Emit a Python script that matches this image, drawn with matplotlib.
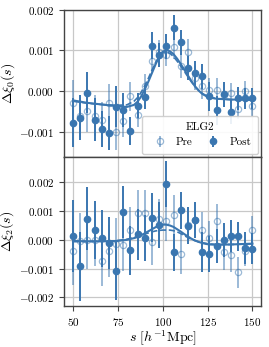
import numpy as np
import matplotlib
matplotlib.use('Agg')
import matplotlib.pyplot as plt
from matplotlib.ticker import FuncFormatter

plt.rcParams['font.family'] = 'serif'
plt.rcParams['font.serif'] = ['cmr10', 'DejaVu Serif']
plt.rcParams['mathtext.fontset'] = 'cm'
plt.rcParams['axes.unicode_minus'] = False

# separation bins
s = np.arange(50, 151, 4)

# monopole difference
xi0_pre = [-0.00028, -0.0006, -0.00049, -0.0006, -0.0007, -0.00028, -0.00099, -0.00072,
           -0.00012, -0.00057, 0.00013, 0.00074, 0.00095, 0.00089, 0.00108, 0.00063,
           0.00097, 0.00033, 0.00012, 0.00003, 0.00003, -0.0001, -0.00004, -0.00042,
           0.00001, -0.00035]
xi0_pre_err = [0.00055, 0.00052, 0.0005, 0.0005, 0.00045, 0.00045, 0.00045, 0.0004,
               0.00035, 0.0003, 0.0003, 0.0003, 0.0003, 0.00028, 0.00028, 0.0003,
               0.0003, 0.0003, 0.0003, 0.0003, 0.0003, 0.00028, 0.00025, 0.00025,
               0.00025, 0.00025]
xi0_post = [-0.00077, -0.00064, -0.00003, -0.00069, -0.00092, -0.00102, -0.00037, -0.00045,
            -0.00097, -0.00035, -0.00014, 0.00111, 0.00089, 0.0011, 0.00156, 0.0012,
            0.00057, 0.00044, 0.00037, -0.00012, -0.00046, -0.00007, -0.0005, -0.00017,
            -0.00017, -0.00017]
xi0_post_err = [0.0006, 0.00055, 0.0005, 0.00053, 0.00045, 0.00042, 0.0005, 0.00042,
                0.00035, 0.0003, 0.0003, 0.00033, 0.0003, 0.0003, 0.0003, 0.0003,
                0.0003, 0.0003, 0.0003, 0.00035, 0.00035, 0.0003, 0.0003, 0.00028,
                0.00025, 0.00025]

# quadrupole difference
xi2_pre = [-0.00038, -0.00005, -0.00002, -0.00001, -0.00072, -0.0004, -0.00015, -0.00017,
           0.00034, 0.00092, 0.00094, -0.00007, 0.00073, 0.00066, 0.00087, -0.00049,
           0.00052, 0.00068, 0.00036, 0.00007, 0.00066, -0.00043, -0.00052, -0.00113,
           -0.0004, 0.00033]
xi2_pre_err = [0.0012, 0.001, 0.001, 0.0009, 0.0009, 0.0009, 0.0009, 0.0009,
               0.0008, 0.0008, 0.0008, 0.0008, 0.0007, 0.0007, 0.0007, 0.0007,
               0.0006, 0.0006, 0.0006, 0.0006, 0.0006, 0.0006, 0.0006, 0.00055,
               0.0005, 0.0005]
xi2_post = [0.00014, -0.00092, 0.00074, 0.00034, 0.00005, -0.0001, -0.00108, 0.00097,
            -0.00036, 0.00019, 0.00005, 0.00077, 0.00053, 0.00193, -0.00043, 0.00103,
            0.00049, 0.0007, -0.00041, -0.00049, -0.00022, -0.00001, 0.00014, 0.00012,
            -0.00029, -0.0003]
xi2_post_err = [0.00124, 0.0012, 0.0011, 0.001, 0.001, 0.0009, 0.001, 0.0009,
                0.00085, 0.0009, 0.0008, 0.00085, 0.0008, 0.0008, 0.00065, 0.00065,
                0.00065, 0.00062, 0.0007, 0.00062, 0.0006, 0.0006, 0.00055, 0.0005,
                0.00055, 0.00055]

# best-fit model curves
s_model = [50, 58, 66, 74, 80, 84, 86, 88, 90, 92, 94, 96, 98, 100, 102, 104, 106, 108,
           110, 112, 114, 116, 118, 120, 122, 124, 126, 130, 138, 150]
m0_post = [-0.00022, -0.00028, -0.00032, -0.00036, -0.00038, -0.00033, -0.00025, -0.00012,
           0.00005, 0.00024, 0.00045, 0.00066, 0.00085, 0.00097, 0.00101, 0.00098, 0.00091,
           0.0008, 0.00067, 0.00053, 0.00039, 0.00025, 0.00012, 0.00002, -0.00006, -0.00011,
           -0.00015, -0.00018, -0.0002, -0.0002]
m0_pre = [-0.00024, -0.00029, -0.00032, -0.00034, -0.00033, -0.00024, -0.00015, -0.00002,
          0.00014, 0.00032, 0.00052, 0.0007, 0.00085, 0.00094, 0.00096, 0.00093, 0.00085,
          0.00074, 0.00062, 0.00049, 0.00036, 0.00023, 0.00012, 0.00003, -0.00005, -0.0001,
          -0.00014, -0.00018, -0.0002, -0.00021]
m2_post = [-0.00004, -0.00005, -0.00005, -0.00004, 0.0, 0.00006, 0.0001, 0.00016,
           0.00023, 0.0003, 0.00037, 0.00044, 0.0005, 0.00053, 0.00053, 0.0005, 0.00045,
           0.00037, 0.00029, 0.0002, 0.00012, 0.00004, -0.00002, -0.00007, -0.00011, -0.00014,
           -0.00016, -0.00017, -0.00016, -0.00013]
m2_pre = [-0.00006, -0.00006, -0.00005, -0.00003, 0.00002, 0.00008, 0.00012, 0.00016,
          0.0002, 0.00024, 0.00028, 0.00031, 0.00033, 0.00034, 0.00034, 0.00034, 0.00032,
          0.00028, 0.00022, 0.00015, 0.00008, 0.00002, -0.00003, -0.00007, -0.0001, -0.00012,
          -0.00014, -0.00016, -0.00016, -0.00014]

col = '#3a76b0'

fig = plt.figure(figsize=(2.69, 3.47), dpi=100)
ax0 = fig.add_axes([0.238, 0.5467, 0.734, 0.4259])
ax1 = fig.add_axes([0.238, 0.118, 0.734, 0.4287], sharex=ax0)


def fmt(v, pos):
    if abs(v) < 1e-9:
        v = 0.0
    return '$%.3f$' % v


panels = [(ax0, xi0_pre, xi0_pre_err, xi0_post, xi0_post_err, m0_pre, m0_post),
          (ax1, xi2_pre, xi2_pre_err, xi2_post, xi2_post_err, m2_pre, m2_post)]
for ax, pre, pre_e, post, post_e, mpre, mpost in panels:
    ax.grid(True, color='#c8c8c8', lw=0.9, zorder=0)
    ax.errorbar(s, pre, yerr=pre_e, fmt='o', mfc='none', mec=col, color=col,
                alpha=0.5, ms=4.5, mew=0.9, elinewidth=1.4, capsize=0, label='Pre', zorder=3)
    ax.errorbar(s, post, yerr=post_e, fmt='o', color=col, ms=4.5,
                elinewidth=1.4, capsize=0, label='Post', zorder=4)
    ax.plot(s_model, mpost, '-', color=col, lw=1.5, zorder=5)
    ax.plot(s_model, mpre, '--', color=col, lw=1.2, zorder=5)
    ax.yaxis.set_major_formatter(FuncFormatter(fmt))
    ax.tick_params(labelsize=8, direction='out', length=3.5, color='#444444')
    for sp in ax.spines.values():
        sp.set_color('#444444')
        sp.set_linewidth(1.0)

ax0.set_xlim(45, 155)
ax0.set_ylim(-0.00161, 0.002)
ax0.set_yticks([-0.001, 0.0, 0.001, 0.002])
ax0.tick_params(labelbottom=False)
ax0.set_ylabel(r'$\Delta\xi_0(s)$', fontsize=10, labelpad=2)

ax1.set_ylim(-0.0023, 0.00287)
ax1.set_yticks([-0.002, -0.001, 0.0, 0.001, 0.002])
ax1.set_xticks([50, 75, 100, 125, 150])
ax1.xaxis.set_major_formatter(FuncFormatter(lambda v, p: '$%d$' % v))
ax1.set_ylabel(r'$\Delta\xi_2(s)$', fontsize=10, labelpad=2)
ax1.set_xlabel(r'$s\ [h^{-1}\mathrm{Mpc}]$', fontsize=10, labelpad=1)

leg = ax0.legend(loc='lower right', ncol=2, title='ELG2', fontsize=8, title_fontsize=8,
                 frameon=True, framealpha=0.9, edgecolor='#cccccc',
                 borderaxespad=0.3, handlelength=2.0, handletextpad=0.45,
                 columnspacing=0.9, borderpad=0.6)

fig.savefig('out.png', dpi=100)
